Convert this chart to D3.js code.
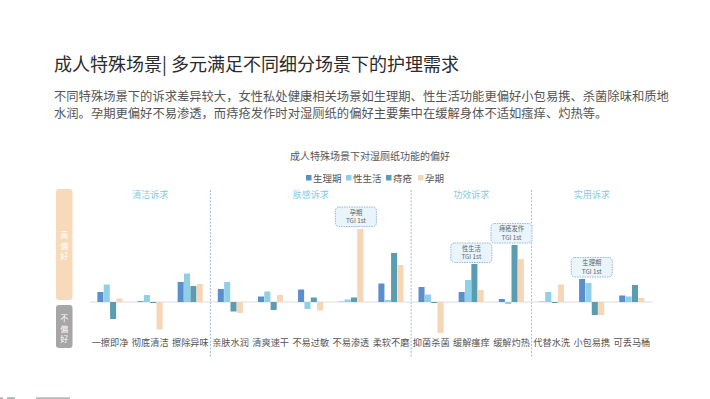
<!DOCTYPE html>
<html>
<head>
<meta charset="utf-8">
<script src="https://cdn.jsdelivr.net/npm/d3@7"></script>
<style>
  body { margin: 0; background: #fff; }
  svg { display: block; font-family: "Noto Sans CJK SC", "Noto Sans", sans-serif; }
</style>
</head>
<body>
<svg id="chart" width="710" height="399"></svg>
<script>
// --- data ---
const categories = ["一擦即净", "彻底清洁", "擦除异味", "亲肤水润", "清爽速干", "不易过敏", "不易渗透",
  "柔软不磨", "抑菌杀菌", "缓解瘙痒", "缓解灼热", "代替水洗", "小包易携", "可丢马桶"];
const seriesNames = ["生理期", "性生活", "痔疮", "孕期"];

// preference index relative to average (positive = prefer more)
const shengliqi = [10, 0.8, 20, 13, 5.5, 12.5, 0.3, 18.5, 15, 10, 3, 0.3, 23, 6.5];
const xingshenghuo = [17.5, 7, 28.5, 20, 10.5, -7, 2.5, 2, 7.5, 22, -2, 10, 19, 5.5];
const zhichuang = [-17, -1, 16, -9.5, -8, 4.5, 4.5, 49, -1, 38, 57, -1, -13, 17];
const yunqi = [3.5, -27.5, 18, -11, 7, -8.5, 73, 37, -31, 12, 43, 17.5, -13, 4];
const values = [shengliqi, xingshenghuo, zhichuang, yunqi];

const groups = [
  { name: "清洁诉求", from: 0, to: 2 },
  { name: "肤感诉求", from: 3, to: 7 },
  { name: "功效诉求", from: 8, to: 10 },
  { name: "实用诉求", from: 11, to: 13 },
];

const callouts = [
  { cat: "不易渗透", text: "孕期" },
  { cat: "缓解瘙痒", text: "性生活" },
  { cat: "缓解灼热", text: "痔疮发作" },
  { cat: "小包易携", text: "生理期" },
];

const colors = ["#5b8fcb", "#8fd0e8", "#5b9db0", "#f6d6b4"];

const svg = d3.select("#chart");

// header text
svg.append("text")
  .attr("x", 54).attr("y", 71)
  .attr("font-size", 18).attr("fill", "#2b2b2b")
  .text("成人特殊场景| 多元满足不同细分场景下的护理需求");

const sub = [
  "不同特殊场景下的诉求差异较大，女性私处健康相关场景如生理期、性生活功能更偏好小包易携、杀菌除味和质地",
  "水润。孕期更偏好不易渗透，而痔疮发作时对湿厕纸的偏好主要集中在缓解身体不适如瘙痒、灼热等。"
];
svg.append("g").selectAll("text").data(sub).join("text")
  .attr("x", 54).attr("y", (d, i) => 101 + i * 16.5)
  .attr("font-size", 12.3).attr("fill", "#555")
  .text(d => d);

svg.append("text")
  .attr("x", 370).attr("y", 160)
  .attr("text-anchor", "middle")
  .attr("font-size", 10).attr("fill", "#555")
  .text("成人特殊场景下对湿厕纸功能的偏好");

// legend
const legend = svg.append("g");
const legX = [306, 346, 386, 418];
seriesNames.forEach((n, i) => {
  legend.append("rect").attr("x", legX[i]).attr("y", 175).attr("width", 5.5).attr("height", 5.5).attr("fill", colors[i]);
  legend.append("text").attr("x", legX[i] + 7).attr("y", 181.8)
    .attr("font-size", 9.5).attr("fill", "#555").text(n);
});

// scales
const x0 = d3.scaleBand().domain(categories).range([90, 652]).paddingInner(0).paddingOuter(0);
const x1 = d3.scaleBand().domain(d3.range(4)).range([0, 25.4]);
const y = d3.scaleLinear().domain([-50, 120]).range([352, 182]);
const off = (x0.bandwidth() - 25.4) / 2;

// left side labels
svg.append("rect").attr("x", 56).attr("y", 189).attr("width", 16.5).attr("height", 111).attr("rx", 3).attr("fill", "#f7dab9");
svg.append("rect").attr("x", 56).attr("y", 305).attr("width", 16.5).attr("height", 43).attr("rx", 3).attr("fill", "#a6a6a6");
const vlab = (chars, y0) => chars.split("").forEach((c, i) => {
  svg.append("text").attr("x", 64.2).attr("y", y0 + i * 10.5)
    .attr("text-anchor", "middle").attr("font-size", 8).attr("fill", "#fff").text(c);
});
vlab("高偏好", 238);
vlab("不偏好", 321);

// dividers between groups
const dividers = [2, 7, 10];
svg.append("g").selectAll("line").data(dividers).join("line")
  .attr("x1", d => x0(categories[d]) + x0.bandwidth())
  .attr("x2", d => x0(categories[d]) + x0.bandwidth())
  .attr("y1", 190).attr("y2", 357)
  .attr("stroke", "#9ebde0").attr("stroke-width", 1).attr("stroke-dasharray", "2,1.5");

// group titles
svg.append("g").selectAll("text").data(groups).join("text")
  .attr("x", d => (x0(categories[d.from]) + x0(categories[d.to]) + x0.bandwidth()) / 2)
  .attr("y", 198)
  .attr("text-anchor", "middle").attr("font-size", 9).attr("fill", "#86c9e6")
  .text(d => d.name);

// baseline
svg.append("line").attr("x1", 90).attr("x2", 653).attr("y1", y(0)).attr("y2", y(0))
  .attr("stroke", "#dcdcdc").attr("stroke-width", 1);

// bars
const barData = [];
categories.forEach((c, ci) => values.forEach((s, si) => barData.push({ c, si, v: s[ci] })));
svg.append("g").selectAll("rect").data(barData).join("rect")
  .attr("x", d => x0(d.c) + off + x1(d.si))
  .attr("width", x1.bandwidth() - 0.3)
  .attr("y", d => y(Math.max(0, d.v)))
  .attr("height", d => Math.abs(y(d.v) - y(0)))
  .attr("fill", d => colors[d.si]);

// category labels
svg.append("g").selectAll("text").data(categories).join("text")
  .attr("x", d => x0(d) + x0.bandwidth() / 2)
  .attr("y", 346)
  .attr("text-anchor", "middle").attr("font-size", 9.2).attr("fill", "#555")
  .text(d => d);

// callouts
const boxTop = { "孕期": 207, "性生活": 243, "痔疮发作": 223.5, "生理期": 257.5 };
const cg = svg.append("g").selectAll("g").data(callouts).join("g")
  .attr("transform", d => `translate(${x0(d.cat) + x0.bandwidth() / 2 + (d.text === "孕期" ? 5 : 0)},${boxTop[d.text]})`);
cg.append("rect").attr("x", -20.5).attr("y", 0).attr("width", 41).attr("height", 19.5).attr("rx", 3.5)
  .attr("fill", "#e9f5fb").attr("stroke", "#7ea7d4").attr("stroke-width", 0.8).attr("stroke-dasharray", "1.5,1");
cg.append("text").attr("y", 7.6).attr("text-anchor", "middle").attr("font-size", 6.3).attr("fill", "#666").text(d => d.text);
cg.append("text").attr("y", 16.4).attr("text-anchor", "middle").attr("font-size", 6.3).attr("fill", "#666").text("TGI 1st");

// small footer marks
svg.append("rect").attr("x", 0).attr("y", 397.5).attr("width", 3).attr("height", 1.2).attr("fill", "#9a8f9a");
svg.append("rect").attr("x", 7).attr("y", 397.5).attr("width", 8).attr("height", 1.2).attr("fill", "#8a8a9a");
svg.append("rect").attr("x", 36).attr("y", 397.5).attr("width", 34).attr("height", 1.2).attr("fill", "#a09898");
</script>
</body>
</html>
